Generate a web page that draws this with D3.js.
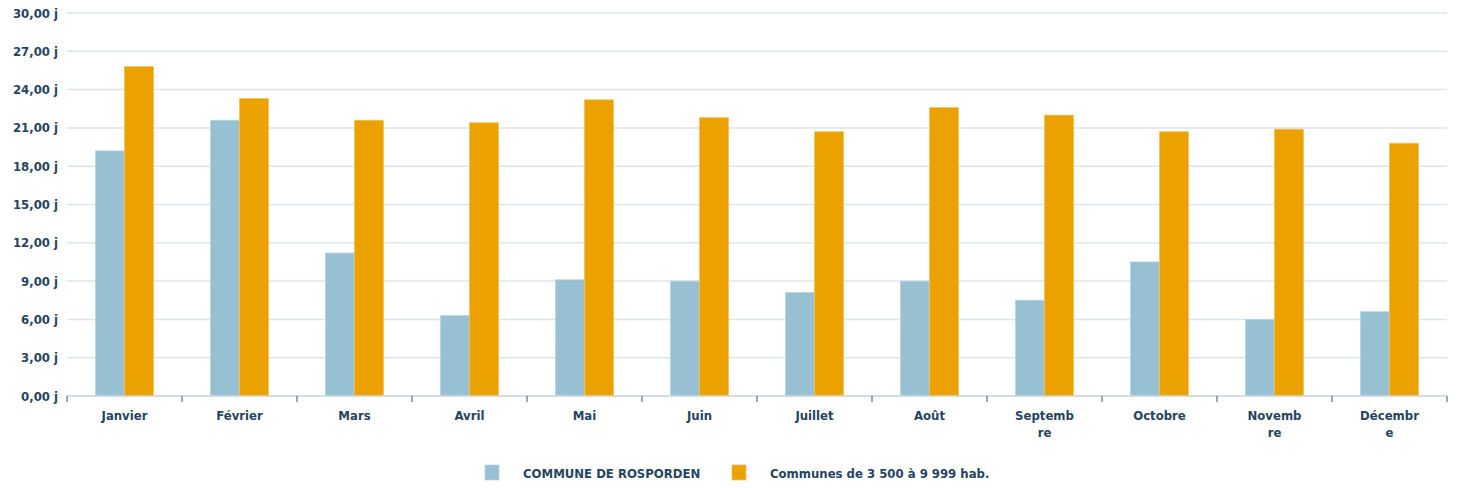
<!DOCTYPE html>
<html><head><meta charset="utf-8">
<script src="https://cdn.jsdelivr.net/npm/d3@7"></script>
<style>
body{margin:0;background:#fff;}
text{font-family:"DejaVu Sans Condensed","DejaVu Sans",sans-serif;font-weight:bold;fill:#264460;}
</style></head><body>
<svg id="c" width="1458" height="488"></svg>
<script>
const months = ["Janvier","Février","Mars","Avril","Mai","Juin","Juillet","Août","Septembre","Octobre","Novembre","Décembre"];
const monthLines = [["Janvier"],["Février"],["Mars"],["Avril"],["Mai"],["Juin"],["Juillet"],["Août"],["Septemb","re"],["Octobre"],["Novemb","re"],["Décembr","e"]];
const commune = [19.2,21.6,11.2,6.3,9.1,9.0,8.1,9.0,7.5,10.5,6.0,6.6];
const strate = [25.8,23.3,21.6,21.4,23.2,21.8,20.7,22.6,22.0,20.7,20.9,19.8];
const seriesNames = ["COMMUNE DE ROSPORDEN","Communes de 3 500 à 9 999 hab."];
const colors = ["#97c0d2","#eba200"];
const yTicks = [0,3,6,9,12,15,18,21,24,27,30];

const svg = d3.select("#c");
const m = {l:67,r:11,t:13,b:92};
const W = 1458, H = 488;
const x = d3.scaleBand().domain(months).range([m.l, W-m.r]).paddingInner(0).paddingOuter(0);
const y = d3.scaleLinear().domain([0,30]).range([H-m.b, m.t]);
const fmt = v => d3.format(".2f")(v).replace(".",",") + " j";

// grid
svg.append("g").selectAll("line").data(yTicks).join("line")
  .attr("x1", m.l).attr("x2", W-m.r)
  .attr("y1", d=>y(d)).attr("y2", d=>y(d))
  .attr("stroke","#dde4ea").attr("stroke-width",1.5);

// y labels
svg.append("g").selectAll("text").data(yTicks).join("text")
  .attr("x", 58).attr("y", d=>y(d)).attr("dy","0.35em")
  .attr("text-anchor","end").style("font-size","13px").text(fmt);

// bars
const bw = 29;
const data = months.map((mo,i)=>({mo, vals:[commune[i], strate[i]]}));
const g = svg.append("g");
data.forEach(d=>{
  const cx = x(d.mo) + x.bandwidth()/2;
  d.vals.forEach((v,j)=>{
    g.append("rect")
      .attr("x", cx - bw + j*bw).attr("width", bw)
      .attr("y", y(v)).attr("height", y(0)-y(v))
      .attr("fill", colors[j])
      .attr("stroke", j===0 ? "#b9d5e1" : "#f2c25a").attr("stroke-width",0.8);
  });
});

// x axis line and ticks
svg.append("line").attr("x1",m.l).attr("x2",W-m.r).attr("y1",y(0)).attr("y2",y(0))
  .attr("stroke","#cfd8df").attr("stroke-width",1.5);
const tickX = months.map(mo=>x(mo)).concat([W-m.r]);
svg.append("g").selectAll("line").data(tickX).join("line")
  .attr("x1",d=>d).attr("x2",d=>d).attr("y1",y(0)).attr("y2",y(0)+6)
  .attr("stroke","#5a6e80").attr("stroke-width",1.2);

// x labels
const xl = svg.append("g");
months.forEach((mo,i)=>{
  const t = xl.append("text").attr("text-anchor","middle").style("font-size","13px")
    .attr("x", x(mo)+x.bandwidth()/2).attr("y", 420);
  monthLines[i].forEach((ln,k)=>{
    t.append("tspan").attr("x", x(mo)+x.bandwidth()/2).attr("dy", k===0?0:"1.3em").text(ln);
  });
});

// legend
const lg = svg.append("g");
const legX = [485, 732];
seriesNames.forEach((s,i)=>{
  lg.append("rect").attr("x",legX[i]).attr("y",465).attr("width",14).attr("height",15)
    .attr("fill",colors[i]).attr("stroke", i===0 ? "#b9d5e1" : "#f2c25a").attr("stroke-width",0.8);
  lg.append("text").attr("x",legX[i]+38).attr("y",473).attr("dy","0.35em")
    .style("font-size","13px").text(s);
});
</script></body></html>
